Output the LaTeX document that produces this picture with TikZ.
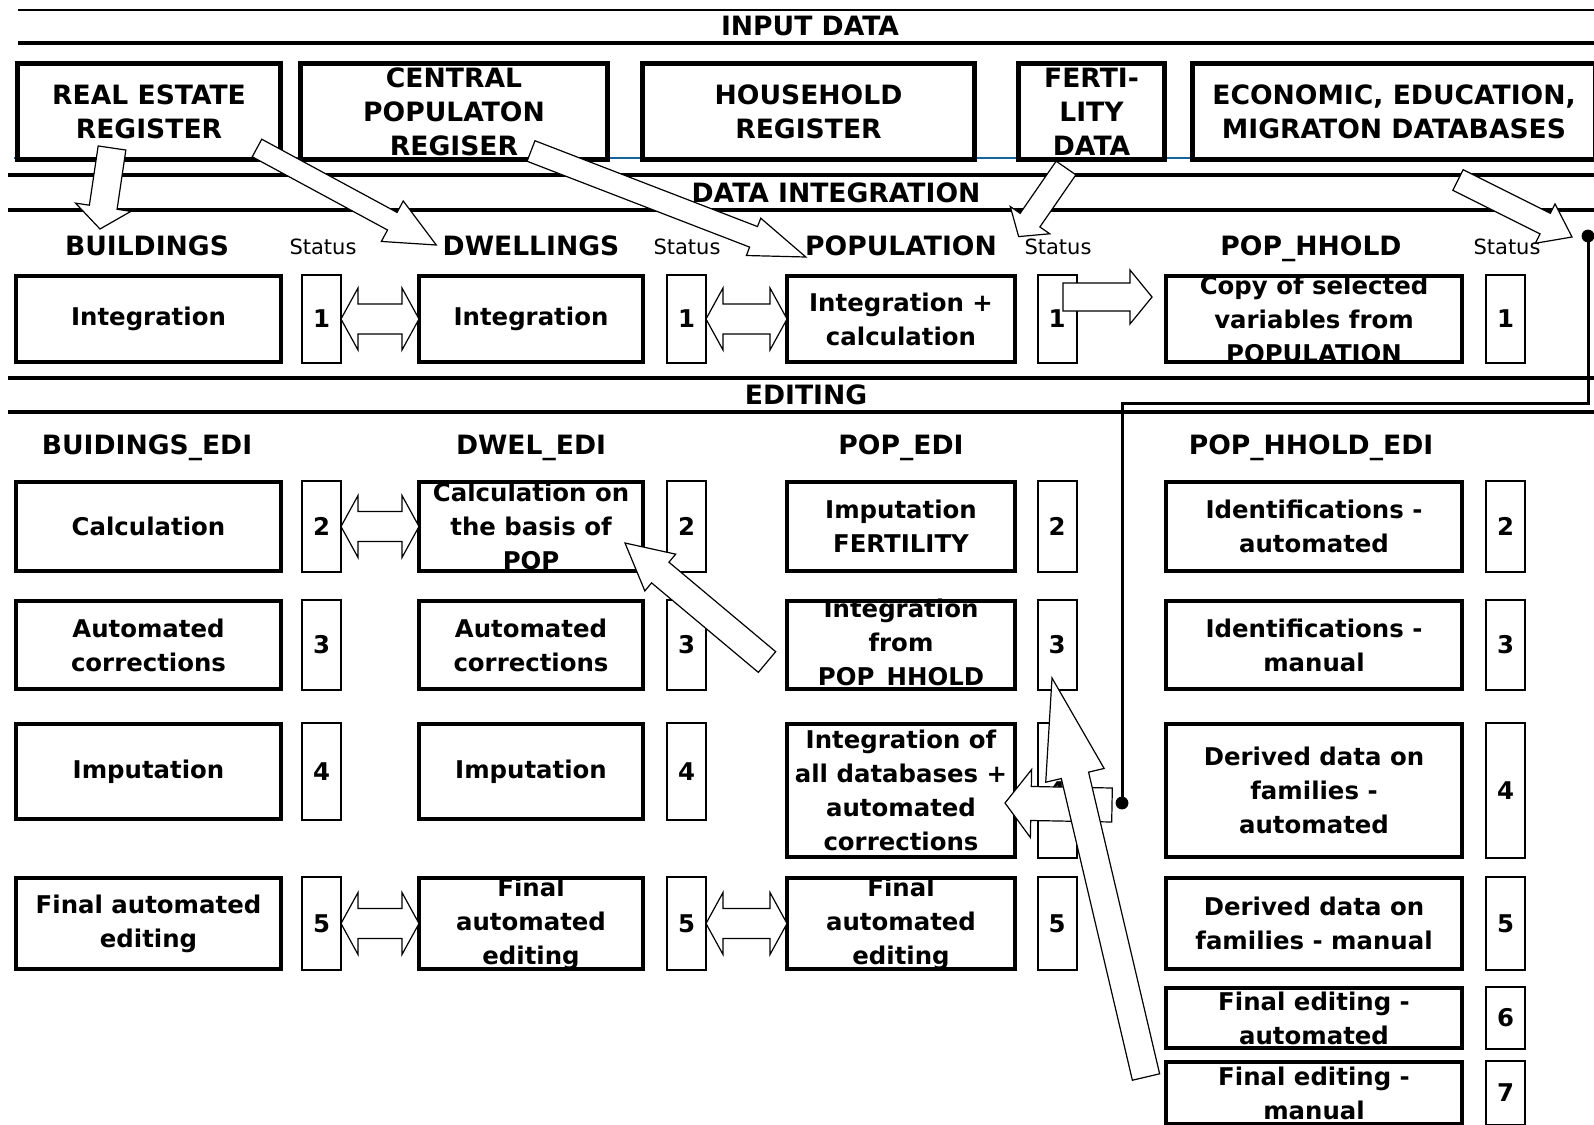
\documentclass[tikz,border=0pt]{standalone}
\usepackage{fontspec}
\setmainfont{DejaVu Sans}
\usetikzlibrary{calc}

\definecolor{regblue}{RGB}{20,100,160}
\newcommand{\hdfont}{\fontsize{13.3}{17}\selectfont\bfseries}
\newcommand{\bodyfont}{\fontsize{12.2}{17}\selectfont\bfseries}
\newcommand{\statfont}{\fontsize{10.5}{12}\selectfont}

% hollow block arrow: tail, tip, shaft half width, head half width, head length
\newcommand{\blkarrow}[5]{%
  \coordinate (ba-t) at (#1);
  \coordinate (ba-p) at (#2);
  \coordinate (ba-h) at ($(ba-p)!#5!(ba-t)$);
  \filldraw[hollow] ($(ba-t)!#3!90:(ba-p)$) -- ($(ba-h)!#3!90:(ba-p)$)
    -- ($(ba-h)!#4!90:(ba-p)$) -- (ba-p) -- ($(ba-h)!#4!-90:(ba-p)$)
    -- ($(ba-h)!#3!-90:(ba-p)$) -- ($(ba-t)!#3!-90:(ba-p)$) -- cycle;
}
% hollow double block arrow: end a, end b, shaft half width, head half width, head length
\newcommand{\blkdarrow}[5]{%
  \coordinate (da-a) at (#1);
  \coordinate (da-b) at (#2);
  \coordinate (da-ha) at ($(da-a)!#5!(da-b)$);
  \coordinate (da-hb) at ($(da-b)!#5!(da-a)$);
  \filldraw[hollow] (da-a) -- ($(da-ha)!#4!90:(da-b)$) -- ($(da-ha)!#3!90:(da-b)$)
    -- ($(da-hb)!#3!90:(da-b)$) -- ($(da-hb)!#4!90:(da-b)$) -- (da-b)
    -- ($(da-hb)!#4!-90:(da-b)$) -- ($(da-hb)!#3!-90:(da-b)$)
    -- ($(da-ha)!#3!-90:(da-b)$) -- ($(da-ha)!#4!-90:(da-b)$) -- cycle;
}

\begin{document}
\begin{tikzpicture}[x=0.5pt, y=-0.5pt,
    inbox/.style={draw, line width=2.5pt, font=\hdfont, align=center, inner sep=0pt, outer sep=0pt, minimum height=48pt},
    box/.style={draw, line width=2pt, font=\bodyfont, align=center, inner xsep=0pt, inner ysep=-4pt, outer sep=0pt},
    stat/.style={draw, line width=1pt, font=\bodyfont, inner sep=0pt, outer sep=0pt, minimum width=19.5pt},
    head/.style={font=\hdfont, inner sep=0pt, text height=9.7pt, text depth=0pt},
    stlab/.style={font=\statfont, inner sep=0pt, text height=7.6pt, text depth=0pt},
    cola/.style={minimum width=132.5pt},
    colb/.style={minimum width=112pt},
    colc/.style={minimum width=114pt},
    cold/.style={minimum width=148pt},
    band/.style={line width=1.75pt},
    hollow/.style={fill=white, draw=black, line width=0.6pt},
    link/.style={line width=1.5pt}]
    \useasboundingbox (0,0) rectangle (1594,1124);

    % Bands
    \draw[line width=1pt] (18,10) -- (1594,10);
    \draw[band] (18,43) -- (1594,43);
    \draw[band] (8,175) -- (1594,175);
    \draw[band] (8,210) -- (1594,210);
    \draw[band] (8,378) -- (1594,378);
    \draw[band] (8,412) -- (1594,412);
    \draw[regblue, line width=1pt] (14,157.5) -- (1594,157.5);

    \node[head] (t_input) at (810,26) {INPUT DATA};
    \node[head] (t_integ) at (836,193) {DATA INTEGRATION};
    \node[head] (t_edit) at (806,395) {EDITING};

    % Input registers
    \node[inbox, minimum width=131.5pt] (reg_re) at (149,111.5) {REAL ESTATE\\REGISTER};
    \node[inbox, minimum width=153.5pt] (reg_cpr) at (454,111.5) {CENTRAL\\POPULATON\\REGISER};
    \node[inbox, minimum width=166pt] (reg_hh) at (808.5,111.5) {HOUSEHOLD\\REGISTER};
    \node[inbox, minimum width=73pt] (fert) at (1091.5,111.5) {FERTI-\\LITY\\DATA};
    \node[inbox, minimum width=201.5pt] (econ) at (1394,111.5) {ECONOMIC, EDUCATION,\\MIGRATON DATABASES};

    % Integration headers
    \node[head] (h_bld) at (147,246) {BUILDINGS};
    \node[stlab] (st_bld) at (323,247) {Status};
    \node[head] (h_dwl) at (531,246) {DWELLINGS};
    \node[stlab] (st_dwl) at (687,247) {Status};
    \node[head] (h_pop) at (901,246) {POPULATION};
    \node[stlab] (st_pop) at (1058,247) {Status};
    \node[head] (h_phh) at (1311,246) {POP\_HHOLD};
    \node[stlab] (st_phh) at (1507,247) {Status};

    % Integration row
    \node[box, cola, minimum height=43pt] (bld1) at (148.5,319) {Integration};
    \node[stat, minimum height=44pt] (s_bld1) at (321.5,319) {1};
    \node[box, colb, minimum height=43pt] (dwl1) at (531,319) {Integration};
    \node[stat, minimum height=44pt] (s_dwl1) at (686.5,319) {1};
    \node[box, colc, minimum height=43pt] (pop1) at (901,319) {Integration +\\calculation};
    \node[stat, minimum height=44pt] (s_pop1) at (1057,319) {1};
    \node[box, cold, minimum height=43pt] (phh1) at (1314,319) {Copy of selected\\variables from\\POPULATION};
    \node[stat, minimum height=44pt] (s_phh1) at (1505.5,319) {1};

    % Editing headers
    \node[head] (h_bld_e) at (147,445) {BUIDINGS\_EDI};
    \node[head] (h_dwl_e) at (531,445) {DWEL\_EDI};
    \node[head] (h_pop_e) at (901,445) {POP\_EDI};
    \node[head] (h_phh_e) at (1311,445) {POP\_HHOLD\_EDI};

    % Editing steps
    \node[box, cola, minimum height=44.5pt] (bld2) at (148.5,526.5) {Calculation};
    \node[stat, minimum height=45.5pt] (s_bld2) at (321.5,526.5) {2};
    \node[box, colb, minimum height=44.5pt] (dwl2) at (531,526.5) {Calculation on\\the basis of\\POP};
    \node[stat, minimum height=45.5pt] (s_dwl2) at (686.5,526.5) {2};
    \node[box, colc, minimum height=44.5pt] (pop2) at (901,526.5) {Imputation\\FERTILITY};
    \node[stat, minimum height=45.5pt] (s_pop2) at (1057,526.5) {2};
    \node[box, cold, minimum height=44.5pt] (phh2) at (1314,526.5) {Identifications -\\automated};
    \node[stat, minimum height=45.5pt] (s_phh2) at (1505.5,526.5) {2};

    \node[box, cola, minimum height=44pt] (bld3) at (148.5,645) {Automated\\corrections};
    \node[stat, minimum height=45pt] (s_bld3) at (321.5,645) {3};
    \node[box, colb, minimum height=44pt] (dwl3) at (531,645) {Automated\\corrections};
    \node[stat, minimum height=45pt] (s_dwl3) at (686.5,645) {3};
    \node[box, colc, minimum height=44pt] (pop3) at (901,645) {Integration\\from\\POP\_HHOLD};
    \node[stat, minimum height=45pt] (s_pop3) at (1057,645) {3};
    \node[box, cold, minimum height=44pt] (phh3) at (1314,645) {Identifications -\\manual};
    \node[stat, minimum height=45pt] (s_phh3) at (1505.5,645) {3};

    \node[box, cola, minimum height=47.5pt] (bld4) at (148.5,771.5) {Imputation};
    \node[stat, minimum height=48.5pt] (s_bld4) at (321.5,771.5) {4};
    \node[box, colb, minimum height=47.5pt] (dwl4) at (531,771.5) {Imputation};
    \node[stat, minimum height=48.5pt] (s_dwl4) at (686.5,771.5) {4};
    \node[box, colc, minimum height=66.5pt] (pop4) at (901,790.5) {Integration of\\all databases +\\automated\\corrections};
    \node[stat, minimum height=67.5pt] (s_pop4) at (1057,790.5) {4};
    \node[box, cold, minimum height=66.5pt] (phh4) at (1314,790.5) {Derived data on\\families -\\automated};
    \node[stat, minimum height=67.5pt] (s_phh4) at (1505.5,790.5) {4};

    \node[box, cola, minimum height=45.5pt] (bld5) at (148.5,923.5) {Final automated\\editing};
    \node[stat, minimum height=46.5pt] (s_bld5) at (321.5,923.5) {5};
    \node[box, colb, minimum height=45.5pt] (dwl5) at (531,923.5) {Final\\automated\\editing};
    \node[stat, minimum height=46.5pt] (s_dwl5) at (686.5,923.5) {5};
    \node[box, colc, minimum height=45.5pt] (pop5) at (901,923.5) {Final\\automated\\editing};
    \node[stat, minimum height=46.5pt] (s_pop5) at (1057,923.5) {5};
    \node[box, cold, minimum height=45.5pt] (phh5) at (1314,923.5) {Derived data on\\families - manual};
    \node[stat, minimum height=46.5pt] (s_phh5) at (1505.5,923.5) {5};

    \node[box, cold, minimum height=30pt] (phh6) at (1314,1018) {Final editing -\\automated};
    \node[stat, minimum height=31pt] (s_phh6) at (1505.5,1018) {6};
    \node[box, cold, minimum height=31pt] (phh7) at (1314,1093) {Final editing -\\manual};
    \node[stat, minimum height=32pt] (s_phh7) at (1505.5,1093) {7};

    % Link from economic data to POP_EDI
    \coordinate (jn_top) at (1588,236);
    \coordinate (jn_bot) at (1122,803);
    \draw[link] (jn_top) -- ++(0,167) -| (jn_bot);
    \filldraw (jn_top) circle (3pt);
    \filldraw (jn_bot) circle (3pt);

    % Double arrows between status and next table
    \blkdarrow{s_bld1.east}{dwl1.west}{7.5pt}{15.5pt}{8.5pt}
    \blkdarrow{s_dwl1.east}{pop1.west}{7.5pt}{15.5pt}{8.5pt}
    \blkdarrow{s_bld2.east}{dwl2.west}{7.5pt}{15.5pt}{8.5pt}
    \blkdarrow{s_bld5.east}{dwl5.west}{7.5pt}{15.5pt}{8.5pt}
    \blkdarrow{s_dwl5.east}{pop5.west}{7.5pt}{15.5pt}{8.5pt}

    % Data flow arrows
    \blkarrow{$(reg_re.south)+(-37,-11.5)$}{$(h_bld.center)+(-47,-17)$}{7pt}{14pt}{11pt}
    \blkarrow{$(reg_re.south east)+(-23.5,-11.5)$}{$(h_dwl.west)+(-6,-1)$}{5pt}{11.5pt}{25pt}
    \blkarrow{$(reg_cpr.south)+(77,-8.5)$}{$(h_pop.west)+(1,11)$}{5.5pt}{10pt}{28pt}
    \blkarrow{$(fert.south)+(-25.5,8.5)$}{$(st_pop.north west)+(-5.5,-2.4)$}{6pt}{12pt}{10pt}
    \blkarrow{$(econ.south)+(64,20.5)$}{$(jn_top)+(-16,1)$}{5.75pt}{11pt}{15pt}
    \blkarrow{$(s_pop1.center)+(6,-22)$}{$(phh1.west)+(-14,-22)$}{7pt}{13.5pt}{11pt}
    \blkarrow{$(pop3.west)+(-20,17)$}{$(dwl2.south east)+(-18,-28)$}{6.75pt}{12pt}{23pt}
    \blkarrow{$(jn_bot)+(-10,2)$}{$(pop4.east)+(-10,12.5)$}{8.5pt}{17pt}{13pt}
    \blkarrow{$(phh7.west)+(-20,-16)$}{$(s_pop3.south)+(-5,-12)$}{7pt}{15pt}{50pt}
\end{tikzpicture}
\end{document}
